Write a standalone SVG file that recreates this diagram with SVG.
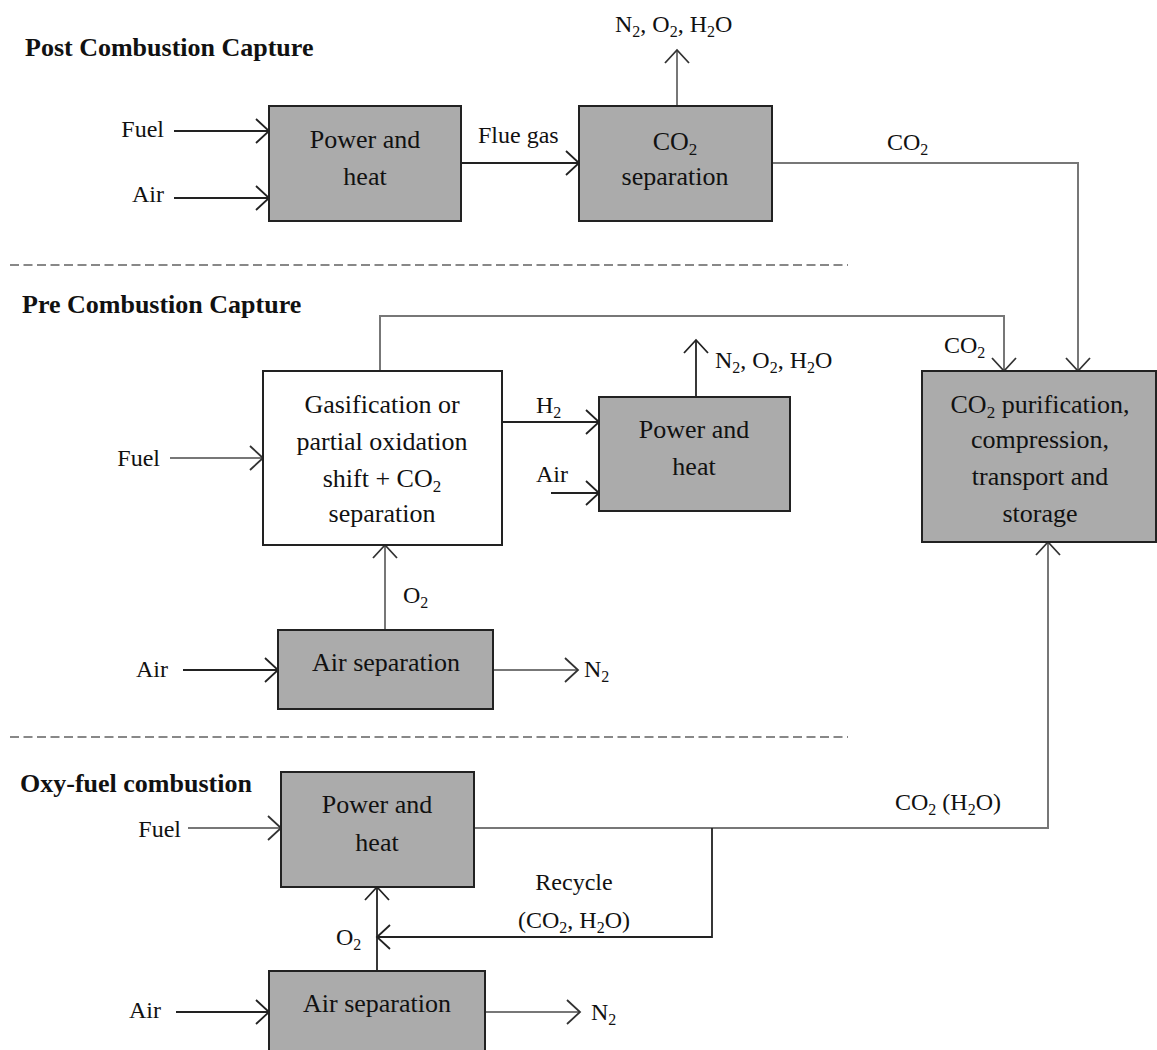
<svg xmlns="http://www.w3.org/2000/svg" width="1157" height="1050" viewBox="0 0 1157 1050">
<style>
text{font-family:"Liberation Serif","Times New Roman",serif;fill:#111;}
.t{font-size:26px;font-weight:bold;}
.n{font-size:26px;text-anchor:middle;}
.l{font-size:24px;}
.r{font-size:24px;text-anchor:end;}
.c{font-size:24px;text-anchor:middle;}
.box{fill:#ababab;stroke:#222;stroke-width:2;}
.wbox{fill:#fff;stroke:#222;stroke-width:2;}
.k{fill:none;stroke:#222;stroke-width:1.8;marker-end:url(#ak);}
.g{fill:none;stroke:#777;stroke-width:2;marker-end:url(#ag);}
.gn{fill:none;stroke:#777;stroke-width:2;}
.kn{fill:none;stroke:#222;stroke-width:1.8;}
.dash{stroke:#888;stroke-width:2;stroke-dasharray:9 4.5;}
</style>
<defs>
<marker id="ak" markerUnits="userSpaceOnUse" markerWidth="30" markerHeight="30" refX="15" refY="15" orient="auto" viewBox="0 0 30 30">
<path d="M2,3 L15,15 L2,27" fill="none" stroke="#222" stroke-width="1.8"/>
</marker>
<marker id="ag" markerUnits="userSpaceOnUse" markerWidth="30" markerHeight="30" refX="15" refY="15" orient="auto" viewBox="0 0 30 30">
<path d="M2,3 L15,15 L2,27" fill="none" stroke="#333" stroke-width="1.8"/>
</marker>
</defs>

<g id="separators">
<line class="dash" x1="10" y1="265" x2="848" y2="265"/>
<line class="dash" x1="10" y1="737" x2="848" y2="737"/>
</g>

<g id="titles">
<text class="t" x="25" y="56">Post Combustion Capture</text>
<text class="t" x="22" y="313">Pre Combustion Capture</text>
<text class="t" x="20" y="792">Oxy-fuel combustion</text>
</g>

<g id="connectors">
<!-- post -->
<path class="k" d="M174,131 H269"/>
<path class="k" d="M174,198 H269"/>
<path class="k" d="M461,163 H579"/>
<path class="g" d="M677,106 V50"/>
<path class="g" d="M772,163 H1078 V371"/>
<!-- pre -->
<path class="g" d="M380,371 V316 H1004 V371"/>
<path class="g" d="M170,458 H263"/>
<path class="k" d="M502,422 H599"/>
<path class="k" d="M551,493 H599"/>
<path class="k" d="M696,397 V340"/>
<path class="g" d="M385,630 V545"/>
<path class="k" d="M183,670 H278"/>
<path class="g" d="M493,670 H578"/>
<!-- oxy -->
<path class="g" d="M188,828 H281"/>
<path class="g" d="M474,828 H1048 V542"/>
<path class="k" d="M712,828 V937 H377"/>
<path class="k" d="M377,971 V887"/>
<path class="k" d="M176,1012 H269"/>
<path class="g" d="M485,1012 H580"/>
</g>

<g id="post-power">
<rect class="box" x="269" y="106" width="192" height="115"/>
<text class="n" x="365" y="148">Power and</text>
<text class="n" x="365" y="185">heat</text>
</g>
<g id="post-co2sep">
<rect class="box" x="579" y="106" width="193" height="115"/>
<text class="n" x="675" y="150">CO<tspan font-size="17" dy="5">2</tspan></text>
<text class="n" x="675" y="185">separation</text>
</g>
<g id="post-labels">
<text class="r" x="164" y="137">Fuel</text>
<text class="r" x="164" y="202">Air</text>
<text class="l" x="478" y="143">Flue gas</text>
<text class="l" x="615" y="32">N<tspan font-size="16" dy="5">2</tspan><tspan dy="-5">, O</tspan><tspan font-size="16" dy="5">2</tspan><tspan dy="-5">, H</tspan><tspan font-size="16" dy="5">2</tspan><tspan dy="-5">O</tspan></text>
<text class="l" x="887" y="150">CO<tspan font-size="16" dy="5">2</tspan></text>
</g>

<g id="pre-gasification">
<rect class="wbox" x="263" y="371" width="239" height="174"/>
<text class="n" x="382" y="413">Gasification or</text>
<text class="n" x="382" y="450">partial oxidation</text>
<text class="n" x="382" y="487">shift + CO<tspan font-size="17" dy="5">2</tspan></text>
<text class="n" x="382" y="522">separation</text>
</g>
<g id="pre-power">
<rect class="box" x="599" y="397" width="191" height="114"/>
<text class="n" x="694" y="438">Power and</text>
<text class="n" x="694" y="475">heat</text>
</g>
<g id="co2-storage">
<rect class="box" x="922" y="371" width="234" height="171"/>
<text class="n" x="1040" y="413">CO<tspan font-size="17" dy="5">2</tspan><tspan dy="-5"> purification,</tspan></text>
<text class="n" x="1040" y="448">compression,</text>
<text class="n" x="1040" y="485">transport and</text>
<text class="n" x="1040" y="522">storage</text>
</g>
<g id="pre-airsep">
<rect class="box" x="278" y="630" width="215" height="79"/>
<text class="n" x="386" y="671">Air separation</text>
</g>
<g id="pre-labels">
<text class="r" x="160" y="466">Fuel</text>
<text class="l" x="536" y="413">H<tspan font-size="16" dy="5">2</tspan></text>
<text class="l" x="536" y="482">Air</text>
<text class="l" x="715" y="368">N<tspan font-size="16" dy="5">2</tspan><tspan dy="-5">, O</tspan><tspan font-size="16" dy="5">2</tspan><tspan dy="-5">, H</tspan><tspan font-size="16" dy="5">2</tspan><tspan dy="-5">O</tspan></text>
<text class="l" x="944" y="353">CO<tspan font-size="16" dy="5">2</tspan></text>
<text class="l" x="403" y="603">O<tspan font-size="16" dy="5">2</tspan></text>
<text class="r" x="168" y="677">Air</text>
<text class="l" x="584" y="677">N<tspan font-size="16" dy="5">2</tspan></text>
</g>

<g id="oxy-power">
<rect class="box" x="281" y="772" width="193" height="115"/>
<text class="n" x="377" y="813">Power and</text>
<text class="n" x="377" y="851">heat</text>
</g>
<g id="oxy-airsep">
<rect class="box" x="269" y="971" width="216" height="95"/>
<text class="n" x="377" y="1012">Air separation</text>
</g>
<g id="oxy-labels">
<text class="r" x="181" y="837">Fuel</text>
<text class="l" x="895" y="810">CO<tspan font-size="16" dy="5">2</tspan><tspan dy="-5"> (H</tspan><tspan font-size="16" dy="5">2</tspan><tspan dy="-5">O)</tspan></text>
<text class="c" x="574" y="890">Recycle</text>
<text class="c" x="574" y="928">(CO<tspan font-size="16" dy="5">2</tspan><tspan dy="-5">, H</tspan><tspan font-size="16" dy="5">2</tspan><tspan dy="-5">O)</tspan></text>
<text class="l" x="336" y="945">O<tspan font-size="16" dy="5">2</tspan></text>
<text class="r" x="161" y="1018">Air</text>
<text class="l" x="591" y="1020">N<tspan font-size="16" dy="5">2</tspan></text>
</g>
</svg>
